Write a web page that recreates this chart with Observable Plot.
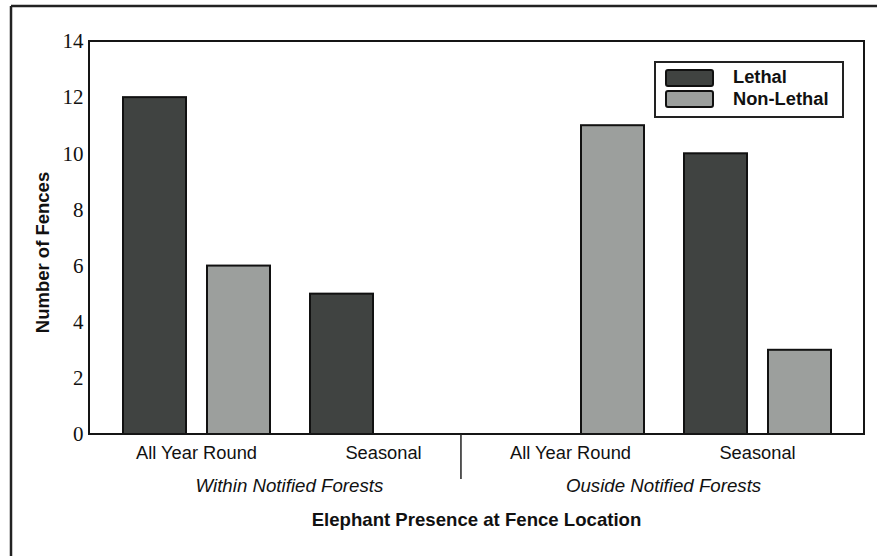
<!DOCTYPE html>
<html>
<head>
<meta charset="utf-8">
<script src="https://cdn.jsdelivr.net/npm/d3@7"></script>
<script src="https://cdn.jsdelivr.net/npm/@observablehq/plot@0.6"></script>
<style>
  html, body { margin: 0; padding: 0; background: #fff; }
  #chart { position: relative; width: 877px; height: 556px; }
</style>
</head>
<body>
<div id="chart"></div>
<script>
// ---- data ----
const groups = ["Within|All Year Round", "Within|Seasonal", "Outside|All Year Round", "Outside|Seasonal"];
const types = ["Lethal", "Non-Lethal"];
const lethal = [12, 5, 0, 10];
const nonLethal = [6, 0, 11, 3];
const sectionLabels = ["Within Notified Forests", "Ouside Notified Forests"];
const yTicks = [0, 2, 4, 6, 8, 10, 12, 14];
const xTitle = "Elephant Presence at Fence Location";
const yTitle = "Number of Fences";
const colors = ["#404341", "#9c9f9d"];

const data = [];
groups.forEach((g, i) => {
  data.push({group: g, type: types[0], value: lethal[i]});
  data.push({group: g, type: types[1], value: nonLethal[i]});
});

const sans = "'Liberation Sans', Arial, sans-serif";
const serif = "'Liberation Serif', 'Times New Roman', serif";

const W = 877, H = 556, mL = 89, mR = 13, mT = 41, mB = 122;
const fxOpts = {domain: groups, paddingInner: 0.209, paddingOuter: 0.176, align: 0.5, label: null};
// offset of the first facet from the frame's left edge (so the y axis sits on the frame)
const fxPre = Plot.scale({fx: {...fxOpts, range: [mL, W - mR]}});
const facetOffset = fxPre.apply(groups[0]) - mL;

const chart = Plot.plot({
  width: W,
  height: H,
  marginLeft: mL,
  marginRight: mR,
  marginTop: mT,
  marginBottom: mB,
  style: {fontFamily: sans, background: "white", color: "#111"},
  fx: fxOpts,
  x: {domain: types, paddingInner: 0.25, paddingOuter: 0, axis: null},
  y: {domain: [0, 14], label: null},
  color: {domain: types, range: colors},
  marks: [
    Plot.barY(data, {fx: "group", x: "type", y: "value", fill: "type", stroke: "#111", strokeWidth: 2}),
    Plot.axisY({ticks: yTicks, tickSize: 0, tickPadding: 6, dx: -facetOffset, fontSize: 21, fontFamily: serif, label: null, color: "#111"}),
    Plot.axisFx({anchor: "bottom", tickSize: 0, tickPadding: 11, fontSize: 18.3, label: null, tickFormat: d => d.split("|")[1]})
  ]
});
document.getElementById("chart").appendChild(chart);

// ---- extra annotations using the plot's own scales ----
const svg = d3.select(chart.tagName.toLowerCase() === "svg" ? chart : chart.querySelector("svg"));
const fxs = chart.scale("fx");
const ys = chart.scale("y");
const fx = d3.scaleBand().domain(fxs.domain).range(fxs.range)
  .paddingInner(fxs.paddingInner).paddingOuter(fxs.paddingOuter).align(fxs.align ?? 0.5);
const y = d3.scaleLinear().domain(ys.domain).range(ys.range);
const y0 = y(0), yTop = y(14);
const left = fxs.range[0], right = fxs.range[1];

// plot frame
svg.append("rect").attr("x", left).attr("y", yTop).attr("width", right - left).attr("height", y0 - yTop)
  .attr("fill", "none").attr("stroke", "#151515").attr("stroke-width", 2);

// outer figure border (top & left only, cropped figure)
svg.append("line").attr("x1", 11).attr("x2", W).attr("y1", 6).attr("y2", 6).attr("stroke", "#222").attr("stroke-width", 2.5);
svg.append("line").attr("x1", 11).attr("x2", 11).attr("y1", 6).attr("y2", H).attr("stroke", "#222").attr("stroke-width", 2.5);

// section labels
[[0, 1], [2, 3]].forEach(([a, b], i) => {
  const cx = (fx(groups[a]) + fx(groups[b]) + fx.bandwidth()) / 2;
  svg.append("text").attr("x", cx).attr("y", 492).attr("text-anchor", "middle")
    .attr("font-family", sans).attr("font-size", 18.7).attr("font-style", "italic").attr("fill", "#111")
    .text(sectionLabels[i]);
});
// divider between sections
const dvx = fx(groups[1]) + fx.bandwidth() + 4;
svg.append("line").attr("x1", dvx).attr("x2", dvx).attr("y1", y0).attr("y2", y0 + 45).attr("stroke", "#222").attr("stroke-width", 1.5);

// x title
svg.append("text").attr("x", (left + right) / 2).attr("y", 526).attr("text-anchor", "middle")
  .attr("font-family", sans).attr("font-size", 18.6).attr("font-weight", "bold").attr("fill", "#111").text(xTitle);
// y title
svg.append("text").attr("transform", `translate(49,${(y0 + yTop) / 2 + 15}) rotate(-90)`).attr("text-anchor", "middle")
  .attr("font-family", sans).attr("font-size", 18.5).attr("font-weight", "bold").attr("fill", "#111").text(yTitle);

// legend
const lg = svg.append("g").attr("transform", `translate(655,62)`);
lg.append("rect").attr("width", 188).attr("height", 55).attr("fill", "white").attr("stroke", "#222").attr("stroke-width", 2);
types.forEach((t, i) => {
  lg.append("rect").attr("x", 11).attr("y", 8 + i * 21).attr("width", 47).attr("height", 16).attr("rx", 2)
    .attr("fill", colors[i]).attr("stroke", "#111").attr("stroke-width", 2);
  lg.append("text").attr("x", 78).attr("y", 21 + i * 22).attr("text-anchor", "start").attr("font-family", sans).attr("font-size", 18.3)
    .attr("font-weight", "bold").attr("fill", "#111").text(t);
});
</script>
</body>
</html>
